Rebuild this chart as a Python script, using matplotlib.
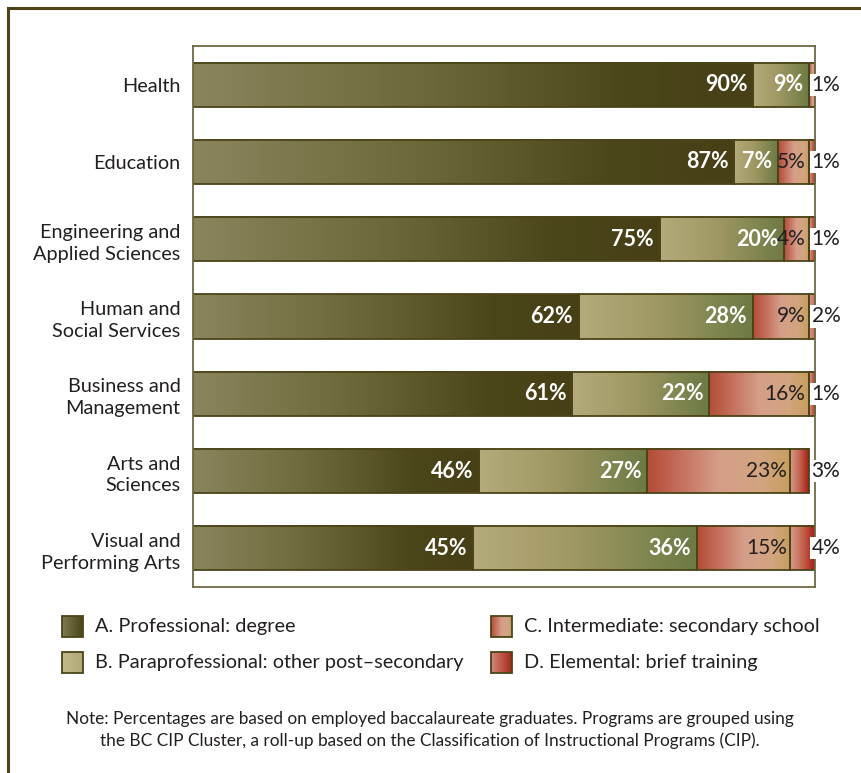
import numpy as np
import matplotlib
matplotlib.use("Agg")
import matplotlib.pyplot as plt
from matplotlib.colors import LinearSegmentedColormap
from matplotlib.lines import Line2D

plt.rcParams['font.family'] = ['Lato', 'DejaVu Sans']

categories = [
    "Health",
    "Education",
    "Engineering and\nApplied Sciences",
    "Human and\nSocial Services",
    "Business and\nManagement",
    "Arts and\nSciences",
    "Visual and\nPerforming Arts",
]
professional = [90, 87, 75, 62, 61, 46, 45]
paraprofessional = [9, 7, 20, 28, 22, 27, 36]
intermediate = [1, 5, 4, 9, 16, 23, 15]
elemental = [0, 1, 1, 2, 1, 3, 4]

series_names = [
    "A. Professional: degree",
    "B. Paraprofessional: other post\u2013secondary",
    "C. Intermediate: secondary school",
    "D. Elemental: brief training",
]

OLIVE_DARK = "#4a4418"
TEXT_DARK = "#231f20"

cmaps = [
    LinearSegmentedColormap.from_list("prof", [(0, "#8a855e"), (0.4, "#6c6a3a"), (0.78, "#4b461a"), (1, "#473f16")]),
    LinearSegmentedColormap.from_list("para", [(0, "#b4aa7b"), (0.45, "#a09863"), (1, "#6c7a44")]),
    LinearSegmentedColormap.from_list("inter", [(0, "#b24d36"), (0.15, "#bf6250"), (0.5, "#d59e89"), (0.8, "#d2a57f"), (1, "#c69e5d")]),
    LinearSegmentedColormap.from_list("elem", [(0, "#d59c88"), (0.5, "#c56652"), (1, "#a61c10")]),
]
legend_cmaps = [
    LinearSegmentedColormap.from_list("lp", ["#7f7a52", "#4a4418"]),
    LinearSegmentedColormap.from_list("lpa", ["#c4bb8d", "#b1a777"]),
    cmaps[2],
    LinearSegmentedColormap.from_list("le", ["#d38a78", "#a8241a"]),
]

W, H = 861, 773
fig = plt.figure(figsize=(W / 100, H / 100), dpi=100)
fig.patch.set_facecolor("white")
ax = fig.add_axes([193 / W, 1 - 587 / H, (815 - 193) / W, (587 - 46) / H])

series = [professional, paraprofessional, intermediate, elemental]
y = np.arange(len(categories))
bar_h = 0.57
ramp = np.linspace(0, 1, 256)[None, :]

left = np.zeros(len(categories))
for vals, cmap in zip(series, cmaps):
    vals = np.asarray(vals, dtype=float)
    bars = ax.barh(y, vals, left=left, height=bar_h, facecolor="none",
                   edgecolor=OLIVE_DARK, linewidth=1.3, zorder=3)
    for p in bars.patches:
        if p.get_width() <= 0:
            p.set_visible(False)
            continue
        x0, y0 = p.get_x(), p.get_y()
        # gradient fill for each segment, clipped to the axes by default
        ax.imshow(ramp, cmap=cmap, aspect="auto", interpolation="bilinear",
                  extent=(x0, x0 + p.get_width(), y0 + p.get_height(), y0), zorder=2)
    left = left + vals

ax.set_xlim(0, 100)
ax.set_ylim(len(categories) - 0.5, -0.5)
ax.set_xticks([])
ax.set_yticks(y)
ax.set_yticklabels(categories, fontsize=14.3, color=TEXT_DARK, linespacing=1.35)
ax.tick_params(axis="y", length=0, pad=9)
for s in ax.spines.values():
    s.set_color("#6e6a45")
    s.set_linewidth(1.3)
    s.set_zorder(4)

# value labels
for i in range(len(categories)):
    vals = [s[i] for s in series]
    last = max(k for k, v in enumerate(vals) if v > 0)
    start = 0
    for k, v in enumerate(vals):
        end = start + v
        if v > 0:
            if k == last:
                ax.annotate(f"{v}%", xy=(100, i), xytext=(-2.5, 0), textcoords="offset points",
                            ha="left", va="center", fontsize=15, color=TEXT_DARK, zorder=6,
                            bbox=dict(boxstyle="square,pad=0.05", fc="white", ec="none"),
                            annotation_clip=False)
            elif k < 2:
                ax.annotate(f"{v}%", xy=(min(end, 100), i), xytext=(-4, 0), textcoords="offset points",
                            ha="right", va="center", fontsize=15.5, fontweight="bold",
                            color="white", zorder=5)
            else:
                ax.annotate(f"{v}%", xy=(min(end, 100), i), xytext=(-2.5, 0), textcoords="offset points",
                            ha="right", va="center", fontsize=15, color=TEXT_DARK, zorder=5)
        start = end

# overlay in pixel coordinates for frame, legend and note
ov = fig.add_axes([0, 0, 1, 1], zorder=-1)
ov.axis("off")
ov.add_line(Line2D([8, 8], [8, H], color=OLIVE_DARK, lw=2.2))
ov.add_line(Line2D([8, W], [8, 8], color=OLIVE_DARK, lw=2.2))

legend_pos = [(62, 616), (62, 652), (491, 616), (491, 652)]
sq = 21
for (lx, ly), name, cm in zip(legend_pos, series_names, legend_cmaps):
    ov.imshow(ramp, cmap=cm, aspect="auto", extent=(lx, lx + sq, ly + sq, ly), zorder=2)
    ov.add_patch(plt.Rectangle((lx, ly), sq, sq, fc="none", ec=OLIVE_DARK, lw=1.3, zorder=3))
    ov.text(lx + 33, ly + sq / 2, name, ha="left", va="center", fontsize=14.3, color=TEXT_DARK)
ov.set_xlim(0, W)
ov.set_ylim(H, 0)

note = ("Note: Percentages are based on employed baccalaureate graduates. Programs are grouped using\n"
        "the BC CIP Cluster, a roll-up based on the Classification of Instructional Programs (CIP).")
ov.text(430, 730, note, ha="center", va="center", fontsize=12.4, color=TEXT_DARK, linespacing=1.35)

fig.savefig("out.png", dpi=100)
